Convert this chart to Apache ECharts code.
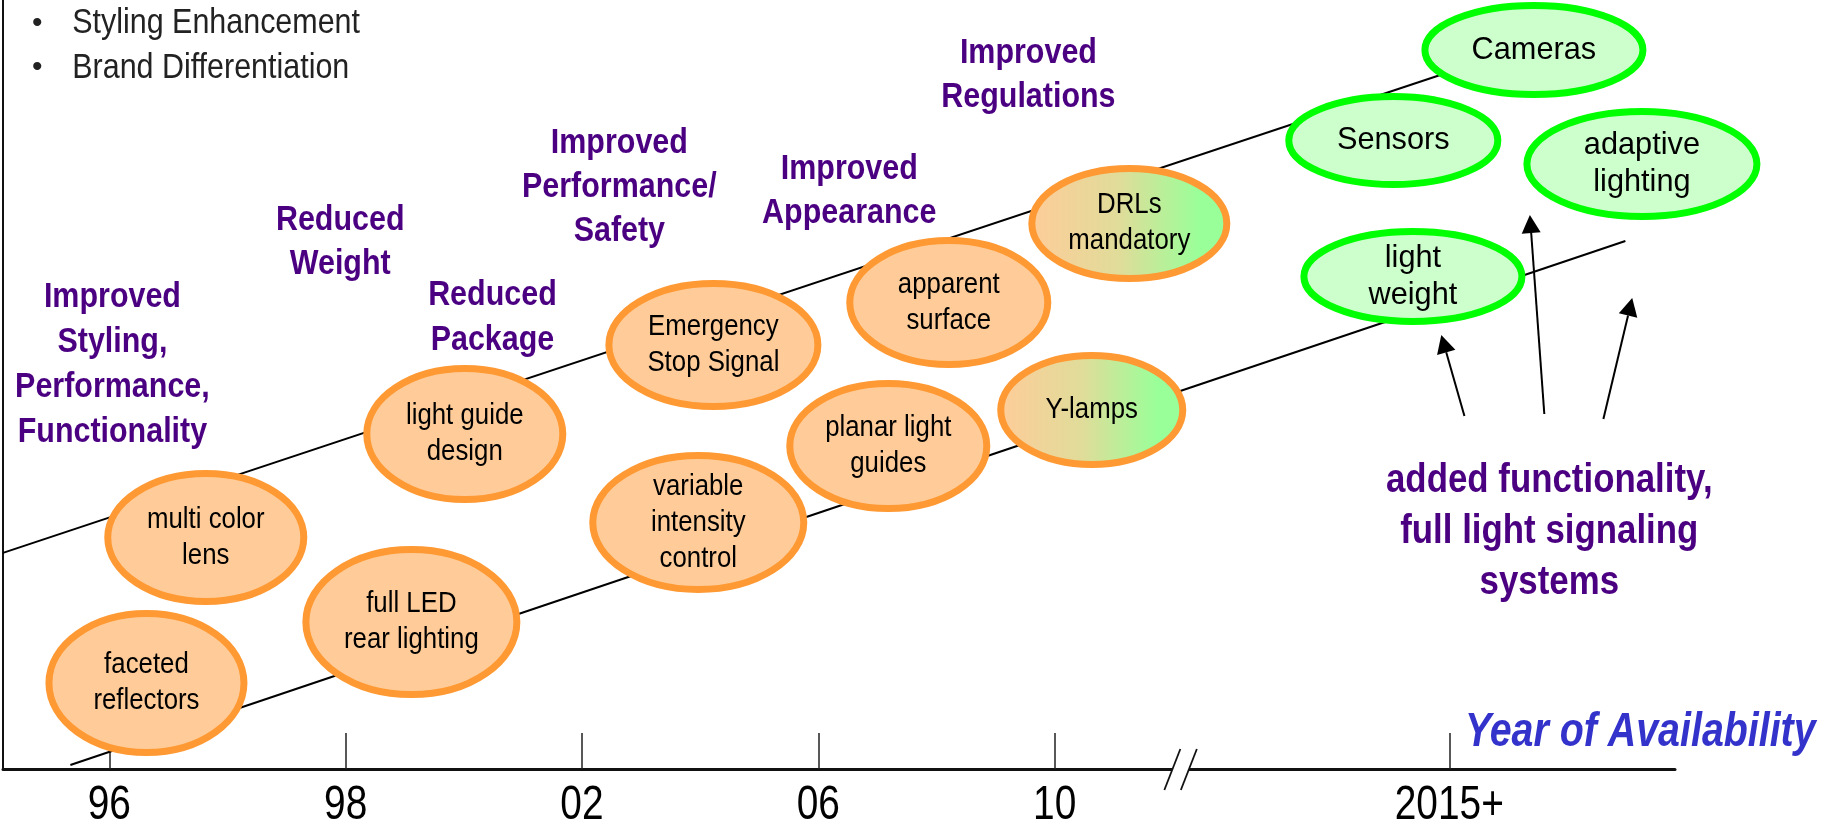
<!DOCTYPE html>
<html><head><meta charset="utf-8">
<script src="https://cdn.jsdelivr.net/npm/echarts@6/dist/echarts.min.js"></script>
<style>html,body{margin:0;padding:0;background:#fff}#c{width:1821px;height:827px}</style>
</head><body><div id="c"></div>
<script>
// ---------- data (x: year slot on the timeline, y: level above the axis, 0..100) ----------
const tickLabels = ['96', '98', '02', '06', '10', '2015+'];
const tickPos = [0, 1, 2, 3, 4, 5.67];
const breakPos = [4.534];

const bubbleLabels = ['faceted\nreflectors', 'multi color\nlens', 'full LED\nrear lighting', 'light guide\ndesign',
  'Emergency\nStop Signal', 'variable\nintensity\ncontrol', 'apparent\nsurface', 'planar light\nguides',
  'DRLs\nmandatory', 'Y-lamps', 'Cameras', 'Sensors', 'adaptive\nlighting', 'light\nweight'];
const bubbleX = [0.157, 0.408, 1.278, 1.504, 2.556, 2.492, 3.552, 3.296, 4.316, 4.157, 6.028, 5.433, 6.485, 5.516];
const bubbleY = [11.18, 30.1, 19.1, 43.56, 55.14, 32.05, 60.66, 42.0, 70.94, 46.68, 93.5, 81.73, 78.67, 64.04];
const bubbleKind = ['current', 'current', 'current', 'current', 'current', 'current', 'current', 'current',
  'transition', 'transition', 'future', 'future', 'future', 'future'];

const headingLabels = ['Improved\nStyling,\nPerformance,\nFunctionality', 'Reduced\nWeight', 'Reduced\nPackage',
  'Improved\nPerformance/\nSafety', 'Improved\nAppearance', 'Improved\nRegulations',
  'added functionality,\nfull light signaling\nsystems'];
const headingX = [0.013, 0.977, 1.621, 2.158, 3.131, 3.889, 6.093];
const headingY = [52.6, 68.53, 58.71, 75.62, 75.07, 90.18, 30.88];

const bulletItems = ['Styling Enhancement', 'Brand Differentiation'];
const bulletX = [-0.157, -0.157];
const bulletY = [96.97, 91.16];

const upperTrend = [[-0.45, 28.1], [5.759, 91.55]];
const lowerTrend = [[-0.165, 0.52], [6.415, 68.66]];

const arrowFrom = [[5.734, 45.9], [6.072, 46.16], [6.322, 45.51]];
const arrowTo = [[5.636, 56.44], [6.011, 72.04], [6.444, 61.25]];

const axisTitle = 'Year of Availability';
const axisTitlePos = [[6.478, 4.75]];

// ---------- layout / style ----------
const FONT = '"Liberation Sans", Arial, sans-serif';
const bubbleRadii = [[97.5, 69.5], [98, 64], [105.5, 72.5], [98, 65.5], [104.5, 61.5], [105.5, 67], [99, 62],
  [98.5, 62.5], [97.5, 55], [91, 54.5], [109, 44.5], [104.5, 44], [115, 52.5], [109, 45]];
const headingFont = [35, 35, 35, 35, 35, 35, 41];
const headingLine = [45, 44, 45, 44, 44, 44.5, 51];
const headingScale = [0.87, 0.87, 0.87, 0.87, 0.87, 0.87, 0.85];
const PURPLE = '#4B0082';

function makeText(x, y, text, o) {
  return {
    type: 'text', x: x, y: y, scaleX: o.sx || 1, scaleY: 1,
    style: {
      text: text, fill: o.fill || '#000', fontFamily: FONT, fontSize: o.size,
      fontWeight: o.weight || 'normal', fontStyle: o.style || 'normal',
      align: o.align || 'center', verticalAlign: 'middle', lineHeight: o.lh || o.size,
      textShadowColor: o.shadow ? '#ffffff' : 'transparent',
      textShadowOffsetX: o.shadow ? 1.5 : 0, textShadowOffsetY: o.shadow ? 1.5 : 0, textShadowBlur: 0
    }
  };
}

const chart = echarts.init(document.getElementById('c'), null, { renderer: 'canvas' });

const option = {
  backgroundColor: '#ffffff',
  animation: false,
  grid: { left: 3, right: 146, top: 0, bottom: 58, containLabel: false, outerBoundsMode: 'none' },
  xAxis: {
    type: 'value', min: -0.45, max: 6.625,
    axisLine: { show: true, onZero: false, lineStyle: { color: '#111', width: 3 } },
    axisTick: { show: true, inside: true, length: 36, customValues: tickPos, lineStyle: { color: '#222', width: 1.5 } },
    axisLabel: { show: false }, splitLine: { show: false }
  },
  yAxis: {
    type: 'value', min: 0, max: 100,
    axisLine: { show: true, onZero: false, lineStyle: { color: '#111', width: 2 } },
    axisTick: { show: false }, axisLabel: { show: false }, splitLine: { show: false }
  },
  series: [
    {
      type: 'line', data: upperTrend, symbol: 'none', silent: true, z: 1,
      lineStyle: { color: '#000', width: 2 }
    },
    {
      type: 'line', data: lowerTrend, symbol: 'none', silent: true, z: 1,
      lineStyle: { color: '#000', width: 2 }
    },
    {
      type: 'custom', z: 3, silent: true,
      data: bubbleX.map((x, i) => [x, bubbleY[i]]),
      renderItem: function (params, api) {
        const i = params.dataIndex;
        const c = api.coord([api.value(0), api.value(1)]);
        const k = bubbleKind[i];
        const r = bubbleRadii[i];
        let fill, stroke, fs, sx, lh;
        if (k === 'future') {
          fill = '#CCFFCC'; stroke = '#00FF00'; fs = 32; sx = 0.96; lh = 37;
        } else if (k === 'transition') {
          fill = new echarts.graphic.LinearGradient(0, 0, 1, 0, [
            { offset: 0, color: '#FFCC99' }, { offset: 0.45, color: '#E0DC99' },
            { offset: 0.85, color: '#99FF99' }, { offset: 1, color: '#99FF99' }]);
          stroke = '#FF9933'; fs = 29; sx = 0.89; lh = 36;
        } else {
          fill = '#FFCC99'; stroke = '#FF9933'; fs = 29; sx = 0.89; lh = 36;
        }
        return {
          type: 'group', children: [
            { type: 'ellipse', shape: { cx: c[0], cy: c[1], rx: r[0], ry: r[1] }, style: { fill: fill, stroke: stroke, lineWidth: 7 } },
            makeText(c[0], c[1], bubbleLabels[i], { size: fs, sx: sx, lh: lh, shadow: k !== 'future' })
          ]
        };
      }
    },
    {
      type: 'custom', z: 4, silent: true,
      data: headingX.map((x, i) => [x, headingY[i]]),
      renderItem: function (params, api) {
        const i = params.dataIndex;
        const c = api.coord([api.value(0), api.value(1)]);
        return makeText(c[0], c[1], headingLabels[i], {
          size: headingFont[i], sx: headingScale[i], lh: headingLine[i], weight: 'bold', fill: PURPLE
        });
      }
    },
    {
      type: 'custom', z: 4, silent: true,
      data: bulletX.map((x, i) => [x, bulletY[i]]),
      renderItem: function (params, api) {
        const i = params.dataIndex;
        const c = api.coord([api.value(0), api.value(1)]);
        return {
          type: 'group', children: [
            makeText(c[0] - 35, c[1], '•', { size: 30, fill: '#222' }),
            makeText(c[0], c[1], bulletItems[i], { size: 35, sx: 0.87, fill: '#222', align: 'left' })
          ]
        };
      }
    },
    {
      type: 'custom', z: 4, silent: true,
      data: tickPos.map(p => [p, 0]),
      renderItem: function (params, api) {
        const i = params.dataIndex;
        const c = api.coord([api.value(0), api.value(1)]);
        return makeText(c[0], c[1] + 36.5, tickLabels[i], { size: 48, sx: 0.81, fill: '#000' });
      }
    },
    {
      type: 'custom', z: 4, silent: true,
      data: breakPos.map(p => [p, 0]),
      renderItem: function (params, api) {
        const c = api.coord([api.value(0), api.value(1)]);
        const x = c[0], y = c[1];
        return {
          type: 'group', children: [
            { type: 'polygon', shape: { points: [[x - 16.5, y + 21], [x, y + 21], [x + 16, y - 20], [x - 0.5, y - 20]] }, style: { fill: '#fff' } },
            { type: 'line', shape: { x1: x - 16.5, y1: y + 21, x2: x - 0.5, y2: y - 20 }, style: { stroke: '#111', lineWidth: 1.8 } },
            { type: 'line', shape: { x1: x, y1: y + 21, x2: x + 16, y2: y - 20 }, style: { stroke: '#111', lineWidth: 1.8 } }
          ]
        };
      }
    },
    {
      type: 'custom', z: 4, silent: true,
      data: arrowFrom.map((p, i) => [p[0], p[1], arrowTo[i][0], arrowTo[i][1]]),
      renderItem: function (params, api) {
        const a = api.coord([api.value(0), api.value(1)]);
        const b = api.coord([api.value(2), api.value(3)]);
        const dx = b[0] - a[0], dy = b[1] - a[1];
        const len = Math.sqrt(dx * dx + dy * dy);
        const ux = dx / len, uy = dy / len;
        const hl = 18, hw = 9.5;
        const bx = b[0] - ux * hl, by = b[1] - uy * hl;
        return {
          type: 'group', children: [
            { type: 'line', shape: { x1: a[0], y1: a[1], x2: bx, y2: by }, style: { stroke: '#000', lineWidth: 2 } },
            { type: 'polygon', shape: { points: [[b[0], b[1]], [bx - uy * hw, by + ux * hw], [bx + uy * hw, by - ux * hw]] }, style: { fill: '#000' } }
          ]
        };
      }
    },
    {
      type: 'custom', z: 4, silent: true,
      data: axisTitlePos,
      renderItem: function (params, api) {
        const c = api.coord([api.value(0), api.value(1)]);
        return makeText(c[0], c[1], axisTitle, { size: 48, sx: 0.82, weight: 'bold', style: 'italic', fill: '#3333CC' });
      }
    }
  ]
};
chart.setOption(option);
</script>
</body></html>
